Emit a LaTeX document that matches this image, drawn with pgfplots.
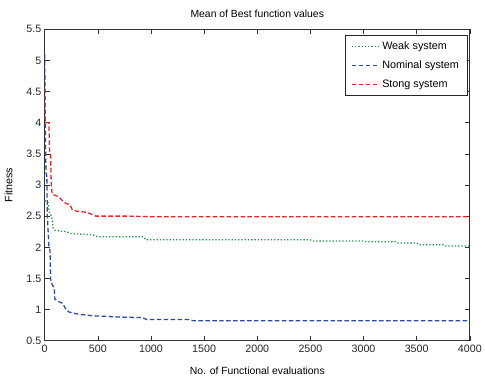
\documentclass[border=0pt]{standalone}
\usepackage{pgfplots}
\pgfplotsset{compat=1.18}
\usepackage{fontspec}
\setmainfont{Liberation Sans}
\definecolor{cgreen}{RGB}{30,150,70}
\definecolor{cblue}{RGB}{45,75,165}
\definecolor{cred}{RGB}{235,35,40}
\begin{document}
\begin{tikzpicture}
\begin{axis}[
  at={(0,0)}, anchor=south west,
  scale only axis, width=428bp, height=313.5bp,
  xmin=0, xmax=4000, ymin=0.5, ymax=5.5,
  xtick={0,500,...,4000}, ytick={0.5,1,...,5.5},
  yticklabels={0.5,1,1.5,2,2.5,3,3.5,4,4.5,5,5.5},
  scaled x ticks=false,
  /pgf/number format/assume math mode=true,
  /pgf/number format/1000 sep={},
  tick align=inside, major tick length=5bp,
  axis line style={line width=0.9pt, black!80},
  tick style={black!80, line width=0.6pt},
  ticklabel style={font=\fontsize{10.8}{13}\selectfont, text=black!85},
  xticklabel style={yshift=-1bp},
  xlabel={No. of Functional evaluations},
  ylabel={Fitness},
  xlabel style={font=\fontsize{10.5}{12}\selectfont, yshift=-7bp},
  ylabel style={font=\fontsize{10.8}{12}\selectfont, yshift=7bp},
  title={Mean of Best function values},
  title style={font=\fontsize{10.5}{12}\selectfont, yshift=2bp},
  legend style={at={(rel axis cs:0.994,0.982)}, anchor=north east, draw=black!85, line width=0.7pt,
    font=\fontsize{10.9}{12}\selectfont, row sep=6bp, inner xsep=6bp, inner ysep=4.5bp},
  legend cell align=left,
  legend image code/.code={\draw[#1, line width=1.5pt] (0bp,0bp) -- (28bp,0bp);},
]
\addplot[cgreen, line width=1.3pt, dotted] coordinates {
(0,2.75)(30,2.72)(45,2.55)(65,2.5)(80,2.3)(100,2.27)(200,2.25)(250,2.22)(450,2.2)(500,2.17)(930,2.17)(950,2.12)(2500,2.12)(2520,2.10)(3000,2.10)(3020,2.09)(3300,2.09)(3320,2.07)(3500,2.07)(3520,2.04)(3750,2.04)(3760,2.02)(4000,2.02)};
\addlegendentry{Weak system}
\addplot[cblue, line width=1.3pt, dash pattern=on 4.5bp off 2.5bp] coordinates {
(0,5.1)(5,4.0)(12,3.2)(20,3.15)(25,2.5)(40,2.0)(50,1.95)(55,1.5)(70,1.4)(90,1.35)(95,1.17)(140,1.12)(170,1.1)(200,1.0)(230,0.96)(300,0.93)(400,0.91)(450,0.9)(700,0.88)(920,0.87)(960,0.84)(1350,0.84)(1400,0.82)(4000,0.82)};
\addlegendentry{Nominal system}
\addplot[cred, line width=1.3pt, dash pattern=on 4.5bp off 2.5bp] coordinates {
(0,4.55)(5,4.0)(40,4.0)(45,3.55)(55,3.5)(62,3.0)(70,2.85)(120,2.82)(150,2.78)(180,2.72)(240,2.68)(260,2.6)(300,2.58)(400,2.56)(480,2.5)(800,2.5)(1000,2.49)(4000,2.49)};
\addlegendentry{Stong system}
\node[anchor=south west, font=\fontsize{10.5}{12}\selectfont, text=black!85, inner sep=0pt] at (rel axis cs:0,1) [yshift=4bp] {x 10\textsuperscript{-3}};
\end{axis}
\useasboundingbox (-45bp,-37bp) rectangle (440bp,343bp);
\end{tikzpicture}
\end{document}
